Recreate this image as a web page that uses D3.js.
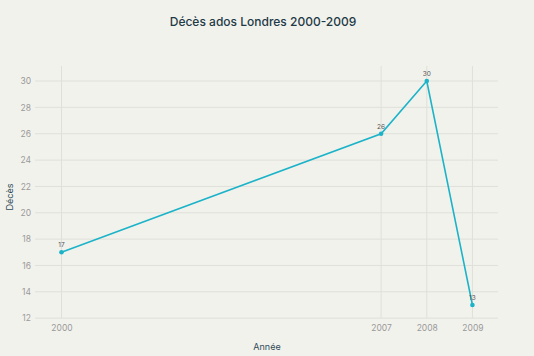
<!DOCTYPE html>
<html><head><meta charset="utf-8">
<script src="https://cdn.jsdelivr.net/npm/d3@7"></script>
<style>
body{margin:0;background:#f2f2ed;}
svg{display:block;font-family:Inter,"Liberation Sans",sans-serif;}
</style></head>
<body><svg id="c" width="534" height="356"></svg>
<script>
const years = [2000, 2007, 2008, 2009];
const deaths = [17, 26, 30, 13];
const yTicks = [12, 14, 16, 18, 20, 22, 24, 26, 28, 30];
const title = "Décès ados Londres 2000-2009";
const xLabel = "Année";
const yLabel = "Décès";

const svg = d3.select("#c");
const W = 534, H = 356;
svg.append("rect").attr("width", W).attr("height", H).attr("fill", "#f2f2ed");

const x = d3.scaleLinear().domain([1999.42, 2009.56]).range([35, 498]);
const y = d3.scaleLinear().domain([11.86, 31.14]).range([320, 66]);

const g = svg.append("g");
g.selectAll(".hg").data(yTicks).join("line")
  .attr("x1", x.range()[0]).attr("x2", x.range()[1])
  .attr("y1", d => y(d)).attr("y2", d => y(d))
  .attr("stroke", "#e0e0da").attr("stroke-width", 1);
g.selectAll(".vg").data(years).join("line")
  .attr("x1", d => x(d)).attr("x2", d => x(d))
  .attr("y1", y.range()[1]).attr("y2", y(12))
  .attr("stroke", "#e0e0da").attr("stroke-width", 1);

const ya = svg.append("g").attr("transform", `translate(${x.range()[0]},0)`)
  .call(d3.axisLeft(y).tickValues(yTicks).tickSize(0).tickPadding(4));
ya.select(".domain").remove();
ya.selectAll("text").attr("fill", "#9a9a9a").attr("font-size", "8.5px").attr("font-family", "Inter, sans-serif");

const xa = svg.append("g").attr("transform", `translate(0,${y(12)})`)
  .call(d3.axisBottom(x).tickValues(years).tickFormat(d3.format("d")).tickSize(0).tickPadding(7));
xa.select(".domain").remove();
xa.selectAll("text").attr("fill", "#9a9a9a").attr("font-size", "8.5px").attr("font-family", "Inter, sans-serif");

const data = years.map((yr, i) => ({yr, v: deaths[i]}));
const line = d3.line().x(d => x(d.yr)).y(d => y(d.v));
svg.append("path").datum(data).attr("d", line)
  .attr("fill", "none").attr("stroke", "#1cb3c8").attr("stroke-width", 1.6);
svg.selectAll(".pt").data(data).join("circle")
  .attr("cx", d => x(d.yr)).attr("cy", d => y(d.v)).attr("r", 2.3).attr("fill", "#1cb3c8");
svg.selectAll(".lbl").data(data).join("text")
  .attr("x", d => x(d.yr)).attr("y", d => y(d.v) - 5)
  .attr("text-anchor", "middle").attr("font-size", "6.5px").attr("fill", "#555")
  .text(d => d.v);

svg.append("text").attr("x", 263).attr("y", 26).attr("text-anchor", "middle")
  .attr("font-size", "12px").attr("font-weight", 500).attr("fill", "#1e3a46").text(title);
svg.append("text").attr("x", 267).attr("y", 350).attr("text-anchor", "middle")
  .attr("font-size", "9px").attr("fill", "#2e4a56").text(xLabel);
svg.append("text").attr("transform", "translate(13,197) rotate(-90)").attr("text-anchor", "middle")
  .attr("font-size", "9px").attr("fill", "#2e4a56").text(yLabel);
</script></body></html>
